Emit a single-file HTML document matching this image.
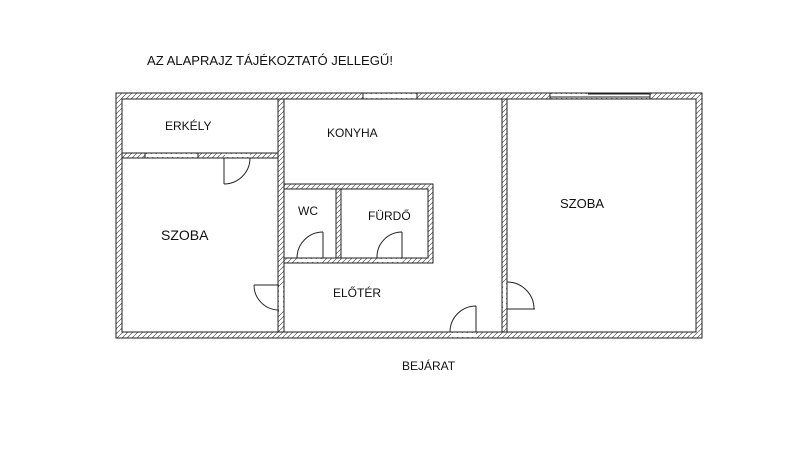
<!DOCTYPE html>
<html><head><meta charset="utf-8"><style>
html,body{margin:0;padding:0;background:#fff;width:796px;height:450px;overflow:hidden}
svg{display:block}
text{font-family:"Liberation Sans",sans-serif;fill:#111}
</style></head><body>
<svg width="796" height="450" viewBox="0 0 796 450" xmlns="http://www.w3.org/2000/svg">
<defs>
<pattern id="h" width="5" height="5" patternUnits="userSpaceOnUse">
<rect width="5" height="5" fill="#fff"/>
<path d="M0,5 L5,0" stroke="#555" stroke-width="0.7"/>
</pattern>
</defs>
<g fill="url(#h)" stroke="#222" stroke-width="1">
<path fill-rule="evenodd" d="M116,93 H702 V338 H116 Z M122,99 H696 V332 H122 Z"/>
<rect x="122" y="153" width="156" height="5"/>
<rect x="278" y="99" width="6" height="233"/>
<rect x="502" y="99" width="5" height="233"/>
<path fill-rule="evenodd" d="M284,184 H433 V263 H284 Z M284,189 H428 V258 H284 Z"/>
<rect x="336" y="189" width="5" height="69"/>
</g>
<g fill="#fff" stroke="none">
<rect x="145" y="154" width="53" height="3"/>
<rect x="225" y="154" width="25" height="3"/>
<rect x="279" y="286" width="4" height="25"/>
<rect x="298" y="259" width="25" height="3"/>
<rect x="378" y="259" width="24" height="3"/>
<rect x="451" y="333" width="25" height="4"/>
<rect x="503" y="283" width="3" height="26"/>
<rect x="363" y="94" width="54" height="4"/>
<rect x="550" y="94" width="100" height="4"/>
</g>
<g fill="none" stroke="#222" stroke-width="1">
<line x1="145" y1="153" x2="145" y2="158"/><line x1="198" y1="153" x2="198" y2="158"/>
<line x1="363" y1="93" x2="363" y2="99"/><line x1="417" y1="93" x2="417" y2="99"/>
<line x1="550" y1="93" x2="550" y2="99"/><line x1="650" y1="93" x2="650" y2="99"/>
<line x1="550" y1="97" x2="650" y2="97"/>
<line x1="588" y1="93.5" x2="650" y2="93.5" stroke-width="2"/>
<line x1="224" y1="158" x2="224" y2="184"/><path d="M224,184 A26,26 0 0 0 250,158"/>
<line x1="254" y1="285" x2="279" y2="285"/><path d="M254,285 A25,25 0 0 0 279,310"/>
<line x1="323" y1="232" x2="323" y2="258"/><path d="M323,232 A26,26 0 0 0 297,258"/>
<line x1="402" y1="232" x2="402" y2="258"/><path d="M402,232 A25,25 0 0 0 377,258"/>
<line x1="476" y1="306" x2="476" y2="332"/><path d="M476,306 A26,26 0 0 0 450,332"/>
<line x1="507" y1="309" x2="535" y2="309"/><path d="M507,282 A27,27 0 0 1 534,309"/>
</g>
<text x="147" y="65" font-size="13" textLength="246" lengthAdjust="spacingAndGlyphs">AZ ALAPRAJZ TÁJÉKOZTATÓ JELLEGŰ!</text>
<text x="165" y="130" font-size="12">ERKÉLY</text>
<text x="327" y="137" font-size="12">KONYHA</text>
<text x="298" y="215" font-size="12">WC</text>
<text x="368" y="220" font-size="12">FÜRDŐ</text>
<text x="161" y="240" font-size="14">SZOBA</text>
<text x="560" y="208" font-size="13">SZOBA</text>
<text x="333" y="297" font-size="12">ELŐTÉR</text>
<text x="402" y="370" font-size="12">BEJÁRAT</text>
</svg>
</body></html>
